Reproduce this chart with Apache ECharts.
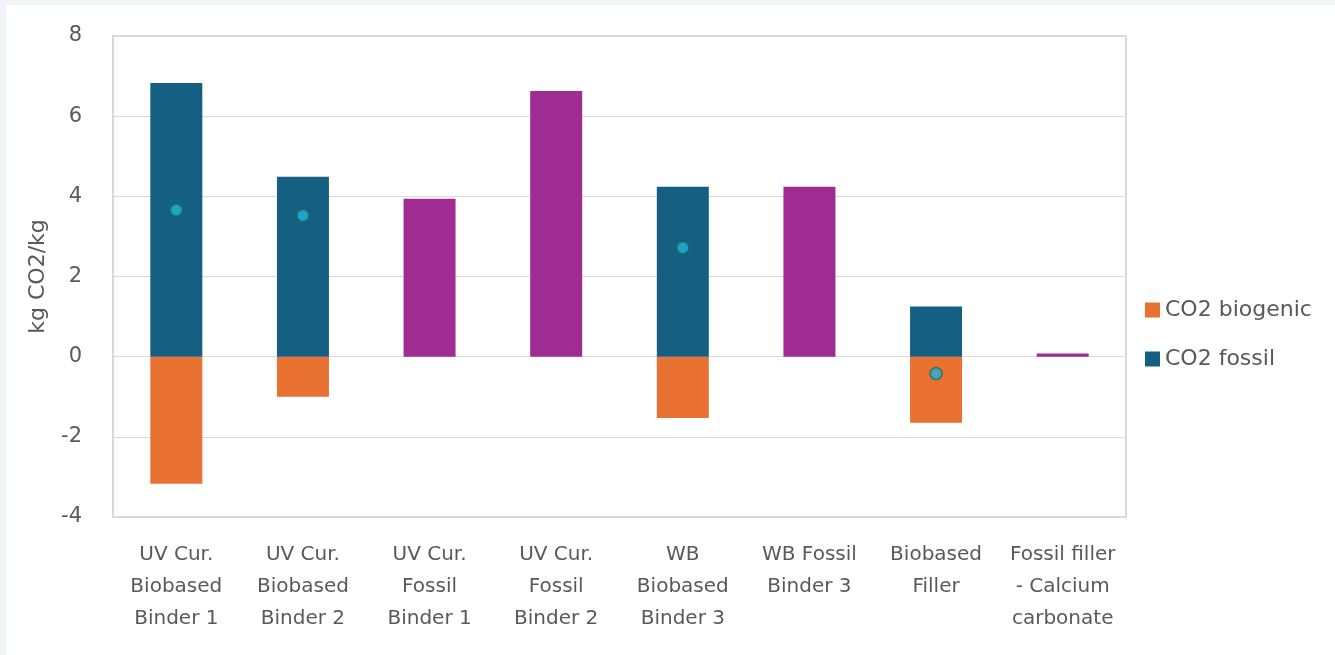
<!DOCTYPE html>
<html>
<head>
<meta charset="utf-8">
<script src="https://cdn.jsdelivr.net/npm/echarts@6/dist/echarts.min.js"></script>
<style>
  html, body { margin: 0; padding: 0; background: #f0f4f9; }
  #chart { position: absolute; left: 6px; top: 5px; width: 1329px; height: 650px; background: #ffffff; }
</style>
</head>
<body>
<div id="chart"></div>
<script>
// categories (x axis)
const categories = [
  'UV Cur.\nBiobased\nBinder 1',
  'UV Cur.\nBiobased\nBinder 2',
  'UV Cur.\nFossil\nBinder 1',
  'UV Cur.\nFossil\nBinder 2',
  'WB\nBiobased\nBinder 3',
  'WB Fossil\nBinder 3',
  'Biobased\nFiller',
  'Fossil filler\n- Calcium\ncarbonate'
];

// kg CO2/kg
const co2Biogenic = [-3.17, -1.0, '-', '-', -1.53, '-', -1.65, '-'];
const co2Fossil = [6.83, 4.49, '-', '-', 4.24, '-', 1.25, '-'];
// fossil-only products, drawn purple
const co2FossilOnly = ['-', '-', 3.94, 6.63, '-', 4.24, '-', 0.08];
// net value markers
const netTotal = [3.66, 3.52, '-', '-', 2.72, '-', -0.42, '-'];

const yTicks = { min: -4, max: 8, interval: 2 };

const chart = echarts.init(document.getElementById('chart'));
const textColor = '#595959';
const fontFamily = 'DejaVu Sans';

chart.setOption({
  animation: false,
  textStyle: { fontFamily },
  grid: {
    left: 107, right: 209, top: 31, bottom: 138,
    show: true, borderColor: '#d9d9d9', borderWidth: 2
  },
  legend: {
    orient: 'vertical',
    left: 1134, top: 289,
    icon: 'rect',
    itemWidth: 15, itemHeight: 15, itemGap: 27,
    data: ['CO2 biogenic', 'CO2 fossil'],
    textStyle: { color: textColor, fontSize: 22, fontFamily }
  },
  xAxis: {
    type: 'category',
    data: categories,
    axisLine: { show: false },
    axisTick: { show: false },
    axisLabel: {
      color: textColor, fontSize: 20, lineHeight: 32, margin: 22,
      interval: 0, fontFamily
    }
  },
  yAxis: {
    type: 'value',
    min: yTicks.min, max: yTicks.max, interval: yTicks.interval,
    name: 'kg CO2/kg',
    nameLocation: 'middle',
    nameGap: 64,
    nameTextStyle: { color: textColor, fontSize: 22, fontFamily },
    axisLine: { show: false },
    axisTick: { show: false },
    axisLabel: { color: textColor, fontSize: 21, margin: 31 },
    splitLine: { lineStyle: { color: '#d9d9d9', width: 1.2 } }
  },
  series: [
    {
      name: 'CO2 biogenic', type: 'bar', stack: 'co2',
      barWidth: 52, data: co2Biogenic,
      itemStyle: { color: '#e97132' }
    },
    {
      name: 'CO2 fossil', type: 'bar', stack: 'co2',
      barWidth: 52, data: co2Fossil,
      itemStyle: { color: '#156082' }
    },
    {
      name: 'Fossil product', type: 'bar', stack: 'co2',
      barWidth: 52, data: co2FossilOnly,
      itemStyle: { color: '#a02b93' }
    },
    {
      name: 'Net', type: 'scatter', data: netTotal,
      symbolSize: 12, z: 5,
      itemStyle: { color: '#1fb2e0', borderColor: '#1b6e4c', borderWidth: 1.5 }
    }
  ]
});
</script>
</body>
</html>
